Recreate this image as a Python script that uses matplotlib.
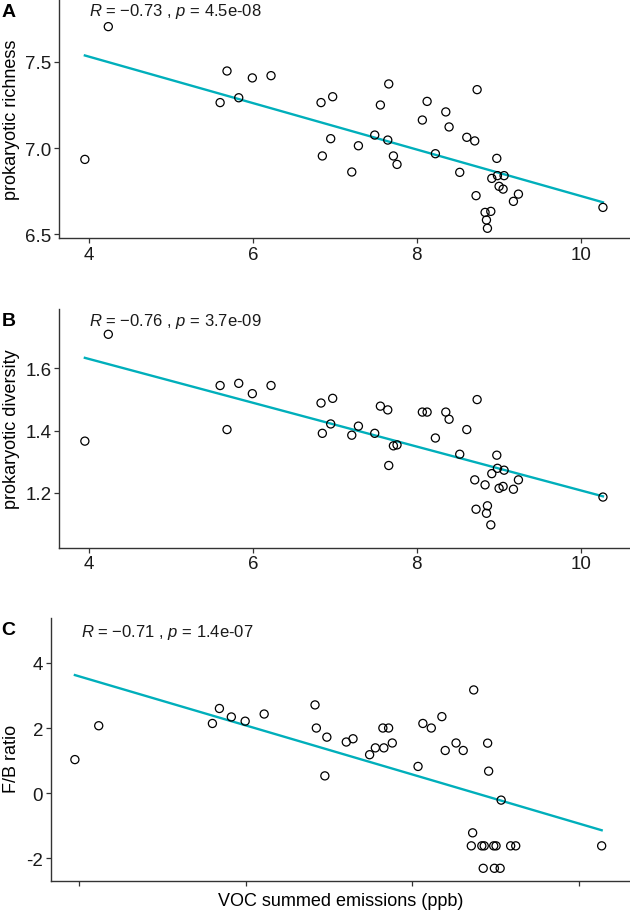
#!/usr/bin/env python3
"""Prokaryotic richness, diversity and F/B ratio against VOC summed emissions."""

from __future__ import annotations

import matplotlib

matplotlib.use("Agg")
import matplotlib.pyplot as plt
import numpy as np

# one x value per soil sample, shared by all three panels
voc_emissions = [
    3.95, 4.236, 5.60, 5.684, 5.827, 5.993, 6.221, 6.831, 6.847, 6.949,
    6.973, 7.206, 7.287, 7.486, 7.555, 7.645, 7.657, 7.714, 7.758, 8.067,
    8.125, 8.226, 8.353, 8.393, 8.523, 8.609, 8.706, 8.722, 8.735, 8.832,
    8.849, 8.861, 8.902, 8.914, 8.975, 8.983, 9.003, 9.052, 9.064, 9.178,
    9.239, 10.27,
]
richness = [
    6.934, 7.703, 7.263, 7.446, 7.291, 7.406, 7.419, 7.263, 6.954, 7.054,
    7.297, 6.861, 7.013, 7.075, 7.249, 7.046, 7.371, 6.954, 6.905, 7.162,
    7.270, 6.967, 7.209, 7.122, 6.859, 7.062, 7.041, 6.724, 7.338, 6.627,
    6.583, 6.535, 6.633, 6.824, 6.940, 6.840, 6.778, 6.762, 6.840, 6.691,
    6.733, 6.656,
]
diversity = [
    1.366, 1.708, 1.544, 1.403, 1.551, 1.518, 1.544, 1.488, 1.391, 1.421,
    1.503, 1.385, 1.414, 1.391, 1.478, 1.466, 1.288, 1.351, 1.354, 1.459,
    1.459, 1.376, 1.459, 1.436, 1.324, 1.403, 1.242, 1.148, 1.499, 1.226,
    1.135, 1.159, 1.098, 1.262, 1.321, 1.279, 1.215, 1.221, 1.273, 1.212,
    1.242, 1.187,
]
fb_ratio = [
    1.03, 2.07, 2.14, 2.60, 2.34, 2.21, 2.43, 2.71, 2.00, 0.53,
    1.72, 1.57, 1.67, 1.18, 1.39, 2.00, 1.39, 2.00, 1.54, 0.82,
    2.14, 2.00, 2.35, 1.31, 1.54, 1.31, -1.62, -1.22, 3.17, -1.62,
    -2.31, -1.62, 1.535, 0.675, -1.62, -2.31, -1.62, -2.31, -0.215, -1.62,
    -1.62, -1.62,
]

panel_letters = ["A", "B", "C"]
y_labels = ["prokaryotic richness", "prokaryotic diversity", "F/B ratio"]
stat_labels = [
    ("\u22120.73", "4.5e-08"),
    ("\u22120.76", "3.7e-09"),
    ("\u22120.71", "1.4e-07"),
]
x_ticks = [4, 6, 8, 10]
y_ticks = [[6.5, 7.0, 7.5], [1.2, 1.4, 1.6], [-2, 0, 2, 4]]
x_label = "VOC summed emissions (ppb)"

LINE_COLOR = "#00AFBB"
FONT = "Liberation Sans"


def style_axis(ax: plt.Axes) -> None:
    for side in ("top", "right"):
        ax.spines[side].set_visible(False)
    for side in ("left", "bottom"):
        ax.spines[side].set_color("#333333")
        ax.spines[side].set_linewidth(1.0)
    ax.tick_params(direction="out", length=3.5, width=0.9, color="#333333",
                   labelsize=13.5, labelcolor="#1a1a1a", pad=2)


def draw_panel(ax, x, y, ylabel, stats, yticks, xlim, ylim, show_xticklabels=True):
    x = np.asarray(x, dtype=float)
    y = np.asarray(y, dtype=float)
    slope, intercept = np.polyfit(x, y, 1)
    xs = np.linspace(x.min(), x.max(), 50)
    ax.plot(xs, slope * xs + intercept, color=LINE_COLOR, linewidth=1.7, zorder=2)
    ax.scatter(x, y, s=34, facecolors="none", edgecolors="black", linewidths=0.9, zorder=3)

    ax.set_xlim(*xlim)
    ax.set_ylim(*ylim)
    ax.set_xticks(x_ticks)
    ax.set_yticks(yticks)
    if not show_xticklabels:
        ax.set_xticklabels([])
    ax.set_ylabel(ylabel, fontsize=13, labelpad=4)
    style_axis(ax)

    r_val, p_val = stats
    ax.text(0.052, 0.95, f"$R$ = {r_val} , $p$ = {p_val}", transform=ax.transAxes,
            fontsize=12, ha="left", va="center", color="#1a1a1a")


def main() -> None:
    plt.rcParams["font.family"] = [FONT, "DejaVu Sans"]
    plt.rcParams["mathtext.fontset"] = "custom"
    plt.rcParams["mathtext.it"] = f"{FONT}:italic"
    plt.rcParams["mathtext.rm"] = FONT
    plt.rcParams["axes.unicode_minus"] = False

    fig = plt.figure(figsize=(6.3, 9.12), dpi=100)
    ax_a = fig.add_axes([0.0941, 0.7376, 0.9059, 0.2624])
    ax_b = fig.add_axes([0.0941, 0.3984, 0.9059, 0.2617])
    ax_c = fig.add_axes([0.0805, 0.0329, 0.9195, 0.2880])

    draw_panel(ax_a, voc_emissions, richness, y_labels[0], stat_labels[0],
               y_ticks[0], (3.638, 10.60), (6.477, 7.863))
    draw_panel(ax_b, voc_emissions, diversity, y_labels[1], stat_labels[1],
               y_ticks[1], (3.638, 10.60), (1.025, 1.789))
    draw_panel(ax_c, voc_emissions, fb_ratio, y_labels[2], stat_labels[2],
               y_ticks[2], (3.66, 10.61), (-2.70, 5.37), show_xticklabels=False)
    ax_c.set_xlabel(x_label, fontsize=13, va="center")
    ax_c.xaxis.set_label_coords(0.5, -0.073)
    ax_c.yaxis.set_label_coords(-0.053, 0.47)

    for letter, ypos in zip(panel_letters, (0.986, 0.647, 0.309)):
        fig.text(0.002, ypos, letter, fontsize=14, fontweight="bold", ha="left", va="center")

    fig.savefig("out.png", dpi=100)
    plt.close(fig)


if __name__ == "__main__":
    main()
